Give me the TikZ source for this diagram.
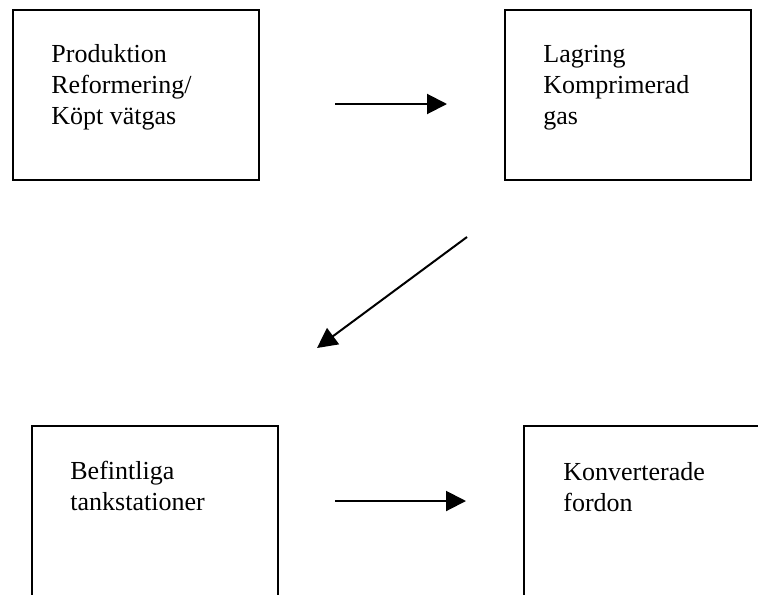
\documentclass[tikz,border=0pt]{standalone}
\usepackage{fontspec}
\setmainfont{Liberation Serif}
\usetikzlibrary{calc,arrows.meta}

\begin{document}
\begin{tikzpicture}[x=0.5pt, y=-0.5pt,
  box/.style={draw, line width=1pt, minimum width=123pt, minimum height=85pt, inner sep=0pt, anchor=north west},
  boxtext/.style={align=left, inner sep=0pt, anchor=base west, font=\fontsize{13pt}{15.5pt}\selectfont},
  arr/.style={line width=1pt, -{Triangle[length=10pt, width=10pt]}}]
\useasboundingbox (0,0) rectangle (758,594);
\clip (0,0) rectangle (758,594);

%boxes
\node[box] (prod) at (12,9) {};
\node[box] (lagr) at (504,9) {};
\node[box] (tank) at (31,425) {};
\node[box] (ford) at (523,425) {};

%texts (base = last line)
\node[boxtext] (prodtext) at ($(prod.north west)+(39,115)$) {Produktion\\Reformering/\\Köpt vätgas};
\node[boxtext] (lagrtext) at ($(lagr.north west)+(39,115)$) {Lagring\\Komprimerad\\gas};
\node[boxtext] (tanktext) at ($(tank.north west)+(39,85)$) {Befintliga\\tankstationer};
\node[boxtext] (fordtext) at ($(ford.north west)+(40,86)$) {Konverterade\\fordon};

%arrows
\coordinate (a1s) at ($(prod.east)+(75,9)$);
\coordinate (a1e) at ($(lagr.west)+(-57,9)$);
\coordinate (a2s) at ($(lagr.south west)+(-37,56)$);
\coordinate (a2e) at ($(tank.north east)+(38,-77)$);
\coordinate (a3s) at ($(tank.east)+(56,-10)$);
\coordinate (a3e) at ($(ford.west)+(-57,-10)$);
\draw[arr] (a1s) -- (a1e);
\draw[arr] (a2s) -- (a2e);
\draw[arr] (a3s) -- (a3e);
\end{tikzpicture}
\end{document}
